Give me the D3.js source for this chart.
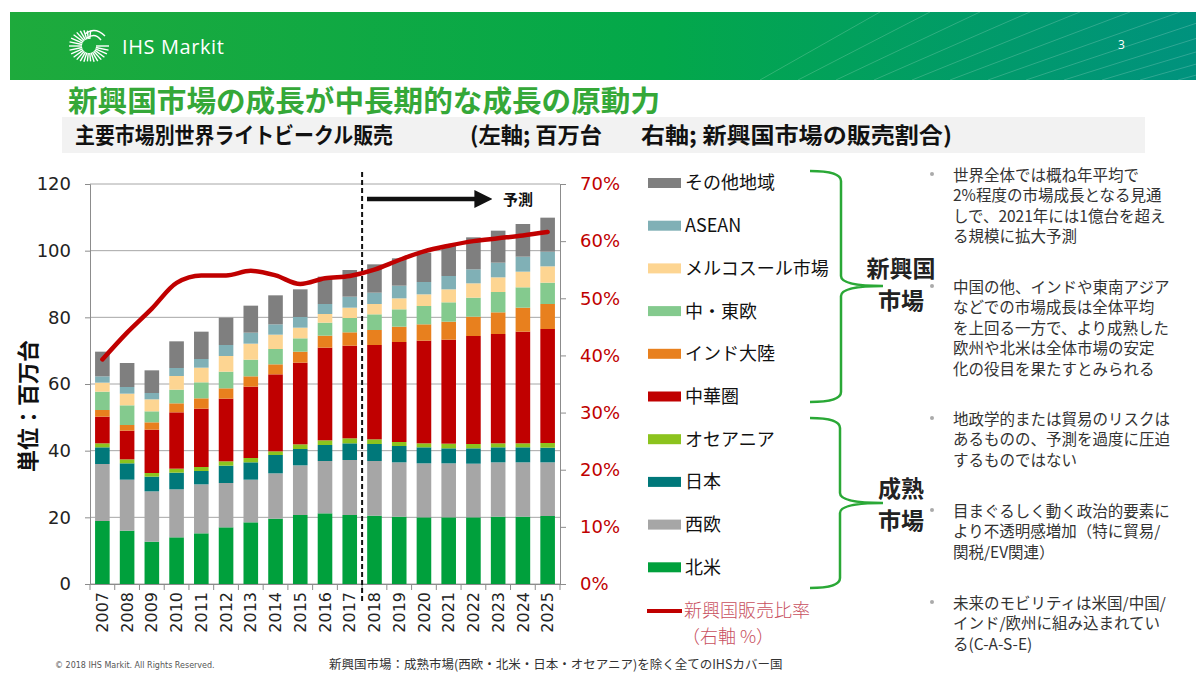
<!DOCTYPE html>
<html><head><meta charset="utf-8">
<script src="https://cdn.jsdelivr.net/npm/d3@7"></script>
<style>
html,body{margin:0;padding:0;background:#fff;}
svg{display:block;font-family:"Noto Sans CJK JP","DejaVu Sans",sans-serif;}
</style></head>
<body><svg id="c" width="1200" height="680"></svg>
<script>
const years = ["2007","2008","2009","2010","2011","2012","2013","2014","2015","2016","2017","2018","2019","2020","2021","2022","2023","2024","2025"];
const northAmerica = [18.9,16.0,12.7,14.0,15.2,17.0,18.5,19.6,20.7,21.2,20.7,20.5,20.2,20.0,20.0,20.0,20.2,20.2,20.4];
const westEurope   = [17.1,15.3,15.1,14.4,14.7,13.3,12.8,13.6,14.9,15.7,16.5,16.4,16.3,16.2,16.2,16.1,16.3,16.3,16.1];
const japan        = [5.0,4.9,4.4,5.0,4.0,5.2,5.2,5.5,4.9,4.8,5.0,5.1,4.9,4.8,4.5,4.6,4.5,4.5,4.4];
const oceania      = [1.2,1.2,1.1,1.2,1.2,1.3,1.3,1.1,1.4,1.4,1.5,1.4,1.2,1.2,1.4,1.3,1.2,1.2,1.4];
const greaterChina = [8.0,8.6,13.0,16.9,17.5,18.8,21.4,23.1,24.5,27.8,27.8,28.3,30.0,30.8,31.2,32.4,32.8,33.5,34.2];
const indianSub    = [2.0,1.7,2.2,2.7,3.1,3.1,3.1,3.0,3.3,3.6,4.0,4.5,4.6,4.9,5.4,5.8,6.5,7.2,7.5];
const centralEastEurope = [5.5,5.9,3.3,4.1,4.8,5.0,5.0,4.6,4.0,3.9,4.3,4.7,5.2,5.5,5.8,5.7,6.1,6.1,6.4];
const mercosur     = [2.7,3.5,3.6,4.1,4.4,4.7,4.8,4.3,3.2,2.6,3.1,3.1,3.3,3.5,3.9,4.3,4.4,4.7,4.9];
const asean        = [1.9,2.0,1.9,2.4,2.6,3.3,3.3,3.1,3.2,3.0,3.3,3.4,3.8,3.7,4.0,4.2,4.4,4.5,4.4];
const otherRegions = [7.4,7.2,6.8,8.0,8.2,8.2,8.1,8.7,8.3,8.2,8.0,8.5,8.2,8.8,9.0,9.6,9.6,9.8,10.2];
const emergingShare = [39.3,44.0,48.2,52.7,54.0,54.0,54.8,54.0,52.5,53.5,53.9,55.0,56.7,58.2,59.2,60.0,60.5,61.0,61.6];

const leftTicks = [0,20,40,60,80,100,120];
const rightTicks = [0,10,20,30,40,50,60,70];

const seriesNames = ["北米","西欧","日本","オセアニア","中華圏","インド大陸","中・東欧","メルコスール市場","ASEAN","その他地域"];
const seriesValues = [northAmerica,westEurope,japan,oceania,greaterChina,indianSub,centralEastEurope,mercosur,asean,otherRegions];
const seriesColors = ["#00a03c","#a6a6a6","#00787a","#8cc31e","#c00000","#e8801e","#84ca8e","#fdd592","#80b0b6","#7f7f7f"];

const svg = d3.select("#c");
const defs = svg.append("defs");

// Header
const hg = defs.append("linearGradient").attr("id","hg").attr("x1","0").attr("x2","1").attr("y1","0").attr("y2","0");
hg.append("stop").attr("offset","0").attr("stop-color","#1eaa3c");
hg.append("stop").attr("offset","0.55").attr("stop-color","#03a84a");
hg.append("stop").attr("offset","1").attr("stop-color","#00927e");
svg.append("rect").attr("x",10).attr("y",12).attr("width",1186).attr("height",68).attr("fill","url(#hg)");
defs.append("clipPath").attr("id","hclip").append("rect").attr("x",10).attr("y",12).attr("width",1186).attr("height",68);
const hdr = svg.append("g").attr("opacity",0.18).attr("stroke","#fff").attr("stroke-width",1).attr("clip-path","url(#hclip)");
for(let i=0;i<12;i++){
  const x0 = 760 + i*38;
  hdr.append("line").attr("x1",x0).attr("y1",80).attr("x2",x0+120+i*12).attr("y2",12);
}
// logo burst
const logo = svg.append("g").attr("transform","translate(89,46)").attr("stroke","#fff").attr("stroke-width",1.4).attr("fill","none");
for(let i=0;i<30;i++){
  const a = i/30*Math.PI*2;
  if (a>Math.PI*1.55 && a<Math.PI*1.95) continue;
  const r2 = 15 + 5*Math.abs(Math.cos(a));
  logo.append("line").attr("x1",Math.cos(a)*7).attr("y1",Math.sin(a)*7).attr("x2",Math.cos(a)*r2).attr("y2",Math.sin(a)*r2);
}
logo.append("path").attr("d","M-4,-12 Q6,-20 16,-10").attr("stroke-width",1.4);
logo.append("path").attr("d","M-2,-8 Q6,-14 12,-6").attr("stroke-width",1.4);
svg.append("text").attr("x",122).attr("y",54).attr("fill","#fff").attr("font-family","'Open Sans',sans-serif").attr("font-size",20).attr("letter-spacing",0.6).text("IHS Markit");
svg.append("text").attr("x",1118).attr("y",49).attr("fill","#fff").attr("font-family","'Open Sans',sans-serif").attr("font-size",12).text("3");

// Titles
svg.append("text").attr("x",68).attr("y",112).attr("fill","#35a838").attr("font-weight","bold").attr("font-size",29)
  .attr("textLength",592).attr("lengthAdjust","spacingAndGlyphs").text("新興国市場の成長が中長期的な成長の原動力");
svg.append("rect").attr("x",62).attr("y",117).attr("width",1083).attr("height",36).attr("fill","#f2f2f2");
const st = [["主要市場別世界ライトビークル販売",75,318],["(左軸; 百万台",470,132],["右軸; 新興国市場の販売割合)",641,311]];
svg.append("g").selectAll("text").data(st).join("text").attr("x",d=>d[1]).attr("y",143).attr("fill","#111")
  .attr("font-weight","bold").attr("font-size",22).attr("textLength",d=>d[2]).attr("lengthAdjust","spacingAndGlyphs").text(d=>d[0]);

// Scales
const x = d3.scaleBand().domain(years).range([90,560]).paddingInner(0.41).paddingOuter(0.205);
const y = d3.scaleLinear().domain([0,120]).range([584,184]);
const y2 = d3.scaleLinear().domain([0,70]).range([584,184]);

// gridlines
svg.append("g").selectAll("line").data(leftTicks).join("line")
  .attr("x1",90).attr("x2",560).attr("y1",d=>y(d)).attr("y2",d=>y(d))
  .attr("stroke","#a6a6a6").attr("stroke-width",1);

// Stacked bars
const table = years.map((yr,i)=>{const o={year:yr}; seriesNames.forEach((n,k)=>o[n]=seriesValues[k][i]); return o;});
const stack = d3.stack().keys(seriesNames)(table);
svg.append("g").selectAll("g").data(stack).join("g")
  .attr("fill",(d,i)=>seriesColors[i])
  .selectAll("rect").data(d=>d).join("rect")
  .attr("x",d=>x(d.data.year)).attr("width",x.bandwidth())
  .attr("y",d=>y(d[1])).attr("height",d=>y(d[0])-y(d[1]));

// Axes
const axL = svg.append("g").attr("transform","translate(90,0)")
  .call(d3.axisLeft(y).tickValues(leftTicks).tickSize(5).tickPadding(14));
axL.select(".domain").attr("stroke","#8c8c8c");
axL.selectAll(".tick line").attr("stroke","#8c8c8c");
axL.selectAll("text").attr("font-family","'DejaVu Sans',sans-serif").attr("font-size",18).attr("fill","#222");

const axR = svg.append("g").attr("transform","translate(560,0)")
  .call(d3.axisRight(y2).tickValues(rightTicks).tickFormat(d=>d+"%").tickSize(6).tickPadding(14));
axR.select(".domain").attr("stroke","#8c8c8c");
axR.selectAll(".tick line").attr("stroke","#8c8c8c");
axR.selectAll("text").attr("font-family","'DejaVu Sans',sans-serif").attr("font-size",18).attr("fill","#c00000");

const axB = svg.append("g").attr("transform","translate(0,584)")
  .call(d3.axisBottom(x).tickSize(0).tickPadding(0));
axB.select(".domain").attr("stroke","#8c8c8c");
axB.selectAll("text").attr("font-family","'DejaVu Sans',sans-serif").attr("font-size",16).attr("fill","#222")
  .attr("transform","rotate(-90)").attr("text-anchor","end").attr("dx","-8").attr("dy","0.35em").attr("y",0).attr("x",0);
const bounds = years.map(yr=>x(yr)-x.step()*x.paddingInner()/2).concat([560]);
svg.append("g").selectAll("line").data(bounds).join("line")
  .attr("x1",d=>d).attr("x2",d=>d).attr("y1",584).attr("y2",590).attr("stroke","#8c8c8c");

// Y title
svg.append("text").attr("transform","translate(36,406) rotate(-90)").attr("text-anchor","middle")
  .attr("font-weight","bold").attr("font-size",22).attr("fill","#111").text("単位：百万台");

// Forecast divider
const divX = x("2018") - x.step()*x.paddingInner()/2;
svg.append("line").attr("x1",divX).attr("x2",divX).attr("y1",172).attr("y2",604)
  .attr("stroke","#111").attr("stroke-width",2).attr("stroke-dasharray","5,3");
defs.append("marker").attr("id","ah").attr("viewBox","0 0 10 10").attr("refX",2).attr("refY",5)
  .attr("markerWidth",4).attr("markerHeight",4).attr("orient","auto")
  .append("path").attr("d","M0,0L10,5L0,10z").attr("fill","#111");
svg.append("line").attr("x1",367).attr("x2",478).attr("y1",199).attr("y2",199)
  .attr("stroke","#111").attr("stroke-width",4.5).attr("marker-end","url(#ah)");
svg.append("text").attr("x",503).attr("y",205).attr("font-weight","bold").attr("font-size",15).attr("fill","#111").text("予測");

// Share line
const line = d3.line().x((d,i)=>x(years[i])+x.bandwidth()/2).y(d=>y2(d)).curve(d3.curveMonotoneX);
svg.append("path").attr("d",line(emergingShare)).attr("fill","none").attr("stroke","#c00000")
  .attr("stroke-width",4.5).attr("stroke-linejoin","round").attr("stroke-linecap","round");

// Legend
const legOrder = [9,8,7,6,5,4,3,2,1,0];
const leg = svg.append("g");
legOrder.forEach((k,j)=>{
  const cy = 183 + j*42.7;
  leg.append("rect").attr("x",648).attr("y",cy-5).attr("width",33).attr("height",10).attr("fill",seriesColors[k]);
  leg.append("text").attr("x",685).attr("y",cy).attr("dy","0.36em").attr("font-size",18).attr("fill","#111").text(seriesNames[k]);
});
leg.append("line").attr("x1",647).attr("x2",682).attr("y1",611).attr("y2",611).attr("stroke","#c00000").attr("stroke-width",4);
leg.append("text").attr("x",684).attr("y",611).attr("dy","0.36em").attr("font-size",18).attr("font-weight",300).attr("fill","#c8505e").text("新興国販売比率");
leg.append("text").attr("x",682).attr("y",637).attr("dy","0.36em").attr("font-size",18).attr("font-weight",300).attr("fill","#c8505e").text("（右軸 %）");

// Braces
function brace(top,bot,tipY,xl,xv,xt){
  const r=10;
  return `M${xl},${top} Q${xv},${top} ${xv},${top+r} L${xv},${tipY-r} Q${xv},${tipY} ${xt},${tipY} Q${xv},${tipY} ${xv},${tipY+r} L${xv},${bot-r} Q${xv},${bot} ${xl},${bot}`;
}
svg.append("path").attr("d",brace(171,402,286,810,841,883)).attr("fill","none").attr("stroke","#2aa836").attr("stroke-width",2.5);
svg.append("path").attr("d",brace(418,588,503,810,840,883)).attr("fill","none").attr("stroke","#2aa836").attr("stroke-width",2.5);
const bt = [["新興国",277],["市場",309],["成熟",497],["市場",529]];
svg.append("g").selectAll("text").data(bt).join("text").attr("x",901).attr("y",d=>d[1]).attr("text-anchor","middle")
  .attr("font-weight","bold").attr("font-size",23).attr("fill","#222").text(d=>d[0]);

// Bullets
const bullets = [
  {y:175, lines:["世界全体では概ね年平均で","2%程度の市場成長となる見通","しで、2021年には1億台を超え","る規模に拡大予測"]},
  {y:287, lines:["中国の他、インドや東南アジア","などでの市場成長は全体平均","を上回る一方で、より成熟した","欧州や北米は全体市場の安定","化の役目を果たすとみられる"]},
  {y:419, lines:["地政学的または貿易のリスクは","あるものの、予測を過度に圧迫","するものではない"]},
  {y:511, lines:["目まぐるしく動く政治的要素に","より不透明感増加（特に貿易/","関税/EV関連）"]},
  {y:603, lines:["未来のモビリティは米国/中国/","インド/欧州に組み込まれてい","る(C-A-S-E)"]}
];
const bg = svg.append("g");
bullets.forEach(b=>{
  bg.append("circle").attr("cx",932).attr("cy",b.y-1).attr("r",2).attr("fill","#aaa");
  b.lines.forEach((l,i)=>{
    bg.append("text").attr("x",953).attr("y",b.y+i*20.5).attr("dy","0.36em").attr("font-size",15.5).attr("fill","#333").text(l);
  });
});

// Footer
svg.append("text").attr("x",55).attr("y",668).attr("font-size",8).attr("fill","#555").attr("font-family","'DejaVu Sans',sans-serif").text("© 2018 IHS Markit. All Rights Reserved.");
svg.append("text").attr("x",329).attr("y",669).attr("font-size",12.5).attr("fill","#333").text("新興国市場：成熟市場(西欧・北米・日本・オセアニア)を除く全てのIHSカバー国");
</script></body></html>
